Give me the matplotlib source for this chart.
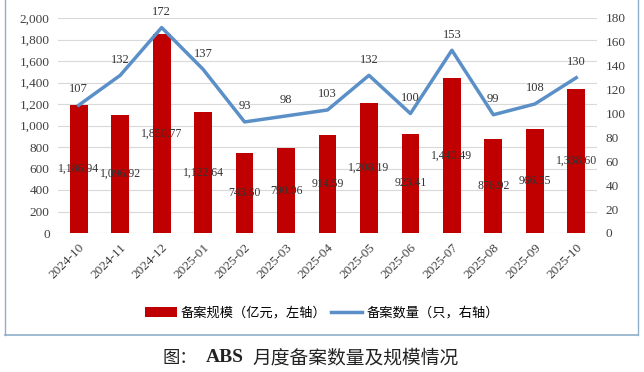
import numpy as np
import matplotlib.pyplot as plt
from matplotlib.lines import Line2D
from matplotlib.patches import Patch

months = ['2024-10', '2024-11', '2024-12', '2025-01', '2025-02', '2025-03', '2025-04',
          '2025-05', '2025-06', '2025-07', '2025-08', '2025-09', '2025-10']
scale = [1186.94, 1096.92, 1850.77, 1122.64, 743.60, 790.06, 914.59,
         1208.19, 923.41, 1440.49, 876.92, 966.55, 1338.60]
count = [107, 132, 172, 137, 93, 98, 103, 132, 100, 153, 99, 108, 130]

plt.rcParams['font.family'] = ['Liberation Serif', 'Noto Sans CJK SC']

red = '#C00000'
blue = '#5B8FC7'

fig = plt.figure(figsize=(6.44, 3.72), dpi=100)
ax = fig.add_axes([58/644, 1-233/372, (597-58)/644, (233-18)/372])
ax2 = ax.twinx()

x = np.arange(len(months))
ax.bar(x, scale, width=0.43, color=red, zorder=2)
for xi, v in zip(x, scale):
    ax.text(xi, v/2, f'{v:,.2f}', ha='center', va='center', fontsize=8.5,
            color='#333333', zorder=5)

ax2.plot(x, count, color=blue, lw=2.5, zorder=3)
for xi, c in zip(x, count):
    ax2.annotate(str(c), (xi, c), xytext=(0, 7), textcoords='offset points',
                 ha='center', va='bottom', fontsize=9, color='#333333')

ax.set_ylim(0, 2000)
ax.set_yticks(range(0, 2001, 200))
ax.set_yticklabels([f'{v:,}' for v in range(0, 2001, 200)])
ax2.set_ylim(0, 180)
ax2.set_yticks(range(0, 181, 20))
ax.set_xlim(-0.5, len(months) - 0.5)
ax.set_xticks(x)
ax.set_xticklabels(months, rotation=45, ha='right', rotation_mode='anchor')

ax.grid(axis='y', color='#D9D9D9', lw=0.8, zorder=0)
ax.set_axisbelow(True)
for a in (ax, ax2):
    for s in a.spines.values():
        s.set_visible(False)
    a.tick_params(length=0, labelsize=9.5, colors='#404040')
ax.tick_params(axis='x', pad=6)
ax.tick_params(axis='y', pad=6)
ax2.tick_params(axis='y', pad=6)

handles = [Patch(facecolor=red), Line2D([0], [0], color=blue, lw=2.5)]
fig.legend(handles, ['备案规模（亿元，左轴）', '备案数量（只，右轴）'],
           loc='center', bbox_to_anchor=(0.5, 1-313/372), ncol=2, frameon=False,
           prop={'family': 'Noto Sans CJK SC', 'size': 9.5}, handlelength=2.4,
           columnspacing=0.3, handletextpad=0.3)

# frame lines around the figure block
fig.add_artist(Line2D([5/644, 5/644], [1-335/372, 1], color='#8FAFC8', lw=1))
fig.add_artist(Line2D([638/644, 638/644], [1-335/372, 1], color='#8FAFC8', lw=1))
fig.add_artist(Line2D([5/644, 638/644], [1-335/372, 1-335/372], color='#8FAFC8', lw=1.2))

# caption
cy = 1 - 358/372
fig.text(163/644, cy, '图：', ha='left', va='center', fontsize=12.5,
         family='Noto Sans CJK SC', color='#222222')
fig.text(206/644, cy, 'ABS', ha='left', va='center', fontsize=14, weight='bold',
         family='Liberation Serif', color='#222222')
fig.text(252/644, cy, '月度备案数量及规模情况', ha='left', va='center', fontsize=13.5,
         family='Noto Sans CJK SC', color='#222222')

fig.savefig('out.png', dpi=100)
